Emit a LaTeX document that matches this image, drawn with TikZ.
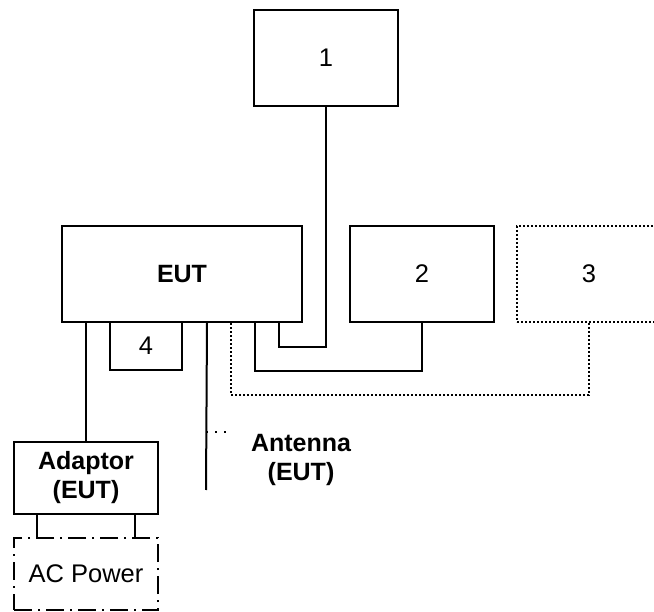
\documentclass[tikz,border=0pt]{standalone}
\usepackage{fontspec}
\setmainfont{Liberation Sans}

\begin{document}
\begin{tikzpicture}
[x=1pt, y=-1pt, line width=2pt, every node/.style={font=\fontsize{25.5}{29}\selectfont}, unit box/.style={draw, inner sep=0pt, minimum width=144pt, minimum height=96pt}, dotted line/.style={dash pattern=on 2pt off 2pt}, sparse dots/.style={dash pattern=on 2pt off 7pt}, dash dot line/.style={dash pattern=on 18pt off 6pt on 2pt off 6pt}, bold text/.style={font=\fontsize{25}{29}\selectfont\bfseries, align=center}]
    \clip (0,0) rectangle (654,612);
    \node[unit box] (one) at (326,58) {1};
    \node[unit box, minimum width=240pt, bold text] (eut) at (182,274) {EUT};
    \node[unit box] (two) at (422,274) {2};
    \node[unit box, dotted line] (three) at (589,274) {3};
    \node[unit box, minimum width=72pt, minimum height=48pt] (four) at (146,346) {4};
    \node[unit box, minimum height=72pt, bold text] (adaptor) at (86,478) {Adaptor\\(EUT)};
    \node[unit box, minimum height=72pt, dash dot line] (acpower) at (86,574) {AC Power};
    \coordinate (anttop) at ([xshift=-96pt]eut.south east);
    \coordinate (antend) at (206,490);
    \coordinate (anttick) at (206,432);
    \node[bold text] (antenna) at (301,460) {Antenna\\(EUT)};
    \draw (one.south) -- ++(0,240) -| ([xshift=-24pt]eut.south east);
    \draw (two.south) -- ++(0,48) -| ([xshift=-48pt]eut.south east);
    \draw[dotted line] (three.south) -- ++(0,72) -| ([xshift=-72pt]eut.south east);
    \draw (anttop) -- (antend);
    \draw[sparse dots] (anttick) -- ++(24,0);
    \draw (eut.south -| adaptor.north) -- (adaptor.north);
    \draw ([xshift=24pt]adaptor.south west) -- ([xshift=24pt]acpower.north west);
    \draw ([xshift=-24pt]adaptor.south east) -- ([xshift=-24pt]acpower.north east);
\end{tikzpicture}
\end{document}
